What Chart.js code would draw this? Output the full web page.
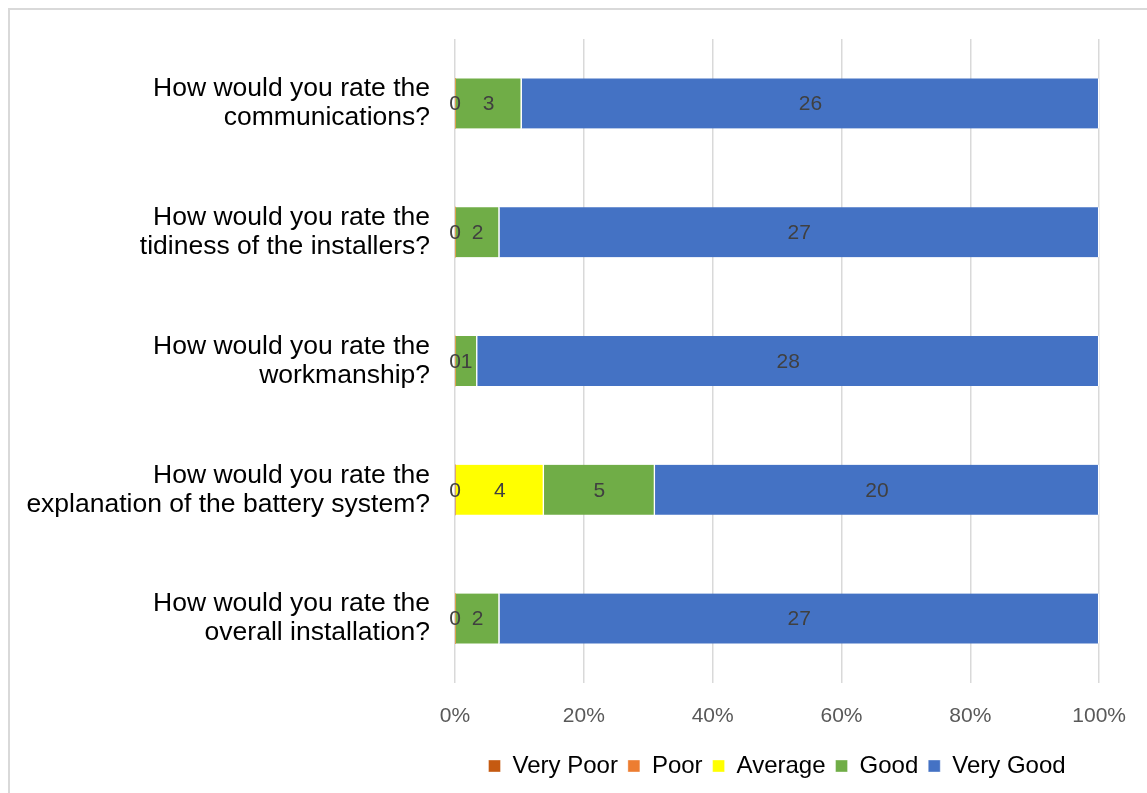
<!DOCTYPE html>
<html lang="en">
<head>
  <meta charset="UTF-8">
  <title>Installation survey</title>
  <script src="https://cdn.jsdelivr.net/npm/chart.js"></script>
  <style>
    body {
      margin: 0;
      background: #fff;
      overflow: hidden;
    }
    #frame {
      position: absolute;
      left: 8px;
      top: 8px;
      width: 1160px;
      height: 820px;
      border: 2px solid #d9d9d9;
      box-sizing: border-box;
    }
    #wrap {
      position: absolute;
      left: 0;
      top: 0;
      width: 1147px;
      height: 793px;
    }
  </style>
</head>
<body>
  <div id="frame"></div>
  <div id="wrap"><canvas id="chart"></canvas></div>

  <script>
    // ---------------- Survey data ---------------- //
    const questions = [
      ['How would you rate the', 'communications?'],
      ['How would you rate the', 'tidiness of the installers?'],
      ['How would you rate the', 'workmanship?'],
      ['How would you rate the', 'explanation of the battery system?'],
      ['How would you rate the', 'overall installation?']
    ];
    const veryPoor = [0, 0, 0, 0, 0];
    const poor = [0, 0, 0, 0, 0];
    const average = [0, 0, 0, 4, 0];
    const good = [3, 2, 1, 5, 2];
    const veryGood = [26, 27, 28, 20, 27];
    const percentTicks = [0, 20, 40, 60, 80, 100];

    const series = [
      { label: 'Very Poor', counts: veryPoor, color: '#c55a11', zeroLabel: true },
      { label: 'Poor', counts: poor, color: '#ed7d31' },
      { label: 'Average', counts: average, color: '#ffff00' },
      { label: 'Good', counts: good, color: '#70ad47' },
      { label: 'Very Good', counts: veryGood, color: '#4472c4' }
    ];

    // row totals, used to turn counts into 100% stacked shares
    const totals = questions.map((q, i) => series.reduce((s, d) => s + d.counts[i], 0));

    const FONT = "'Liberation Sans', Arial, sans-serif";

    // count labels drawn in the middle of each segment
    const countLabels = {
      id: 'countLabels',
      afterDatasetsDraw(chart) {
        const ctx = chart.ctx;
        ctx.save();
        ctx.font = '21px ' + FONT;
        ctx.fillStyle = '#404040';
        ctx.textAlign = 'center';
        ctx.textBaseline = 'middle';
        chart.data.datasets.forEach((ds, di) => {
          const meta = chart.getDatasetMeta(di);
          meta.data.forEach((bar, i) => {
            const n = ds.counts[i];
            if (n === 0 && !ds.zeroLabel) return;
            const x = (bar.x + bar.base) / 2;
            ctx.fillText(String(n), x, bar.y + 1);
          });
        });
        ctx.restore();
      }
    };

    new Chart(document.getElementById('chart'), {
      type: 'bar',
      data: {
        labels: questions,
        datasets: series.map(s => ({
          label: s.label,
          counts: s.counts,
          zeroLabel: !!s.zeroLabel,
          data: s.counts.map((c, i) => c / totals[i] * 100),
          backgroundColor: s.color,
          borderColor: '#ffffff',
          borderWidth: { left: 0, right: 1.5, top: 0, bottom: 0 },
          borderSkipped: false,
          barThickness: 50
        }))
      },
      options: {
        indexAxis: 'y',
        responsive: true,
        maintainAspectRatio: false,
        animation: false,
        layout: { padding: { top: 39, right: 46, bottom: 5, left: 0 } },
        scales: {
          x: {
            stacked: true,
            min: 0,
            max: 100,
            afterBuildTicks(scale) {
              scale.ticks = percentTicks.map(v => ({ value: v }));
            },
            afterFit(scale) { scale.height = 61; },
            grid: { color: '#d9d9d9', lineWidth: 1.5, drawTicks: false },
            border: { display: false },
            ticks: {
              padding: 21,
              color: '#595959',
              font: { family: FONT, size: 21 },
              callback: v => v + '%'
            }
          },
          y: {
            stacked: true,
            afterFit(scale) {
              // labels sit well inside their rows, so no extra room above/below
              scale.width = 455;
              scale.paddingTop = 0;
              scale.paddingBottom = 0;
            },
            grid: { display: false },
            border: { display: false },
            ticks: {
              padding: 17,
              color: '#000000',
              font: { family: FONT, size: 26.5, lineHeight: 1.1 }
            }
          }
        },
        plugins: {
          legend: {
            position: 'bottom',
            fullSize: false,
            labels: {
              boxWidth: 12,
              boxHeight: 12,
              padding: 10,
              color: '#000000',
              font: { family: FONT, size: 24 }
            }
          },
          tooltip: { enabled: false }
        }
      },
      plugins: [countLabels]
    });
  </script>
</body>
</html>
